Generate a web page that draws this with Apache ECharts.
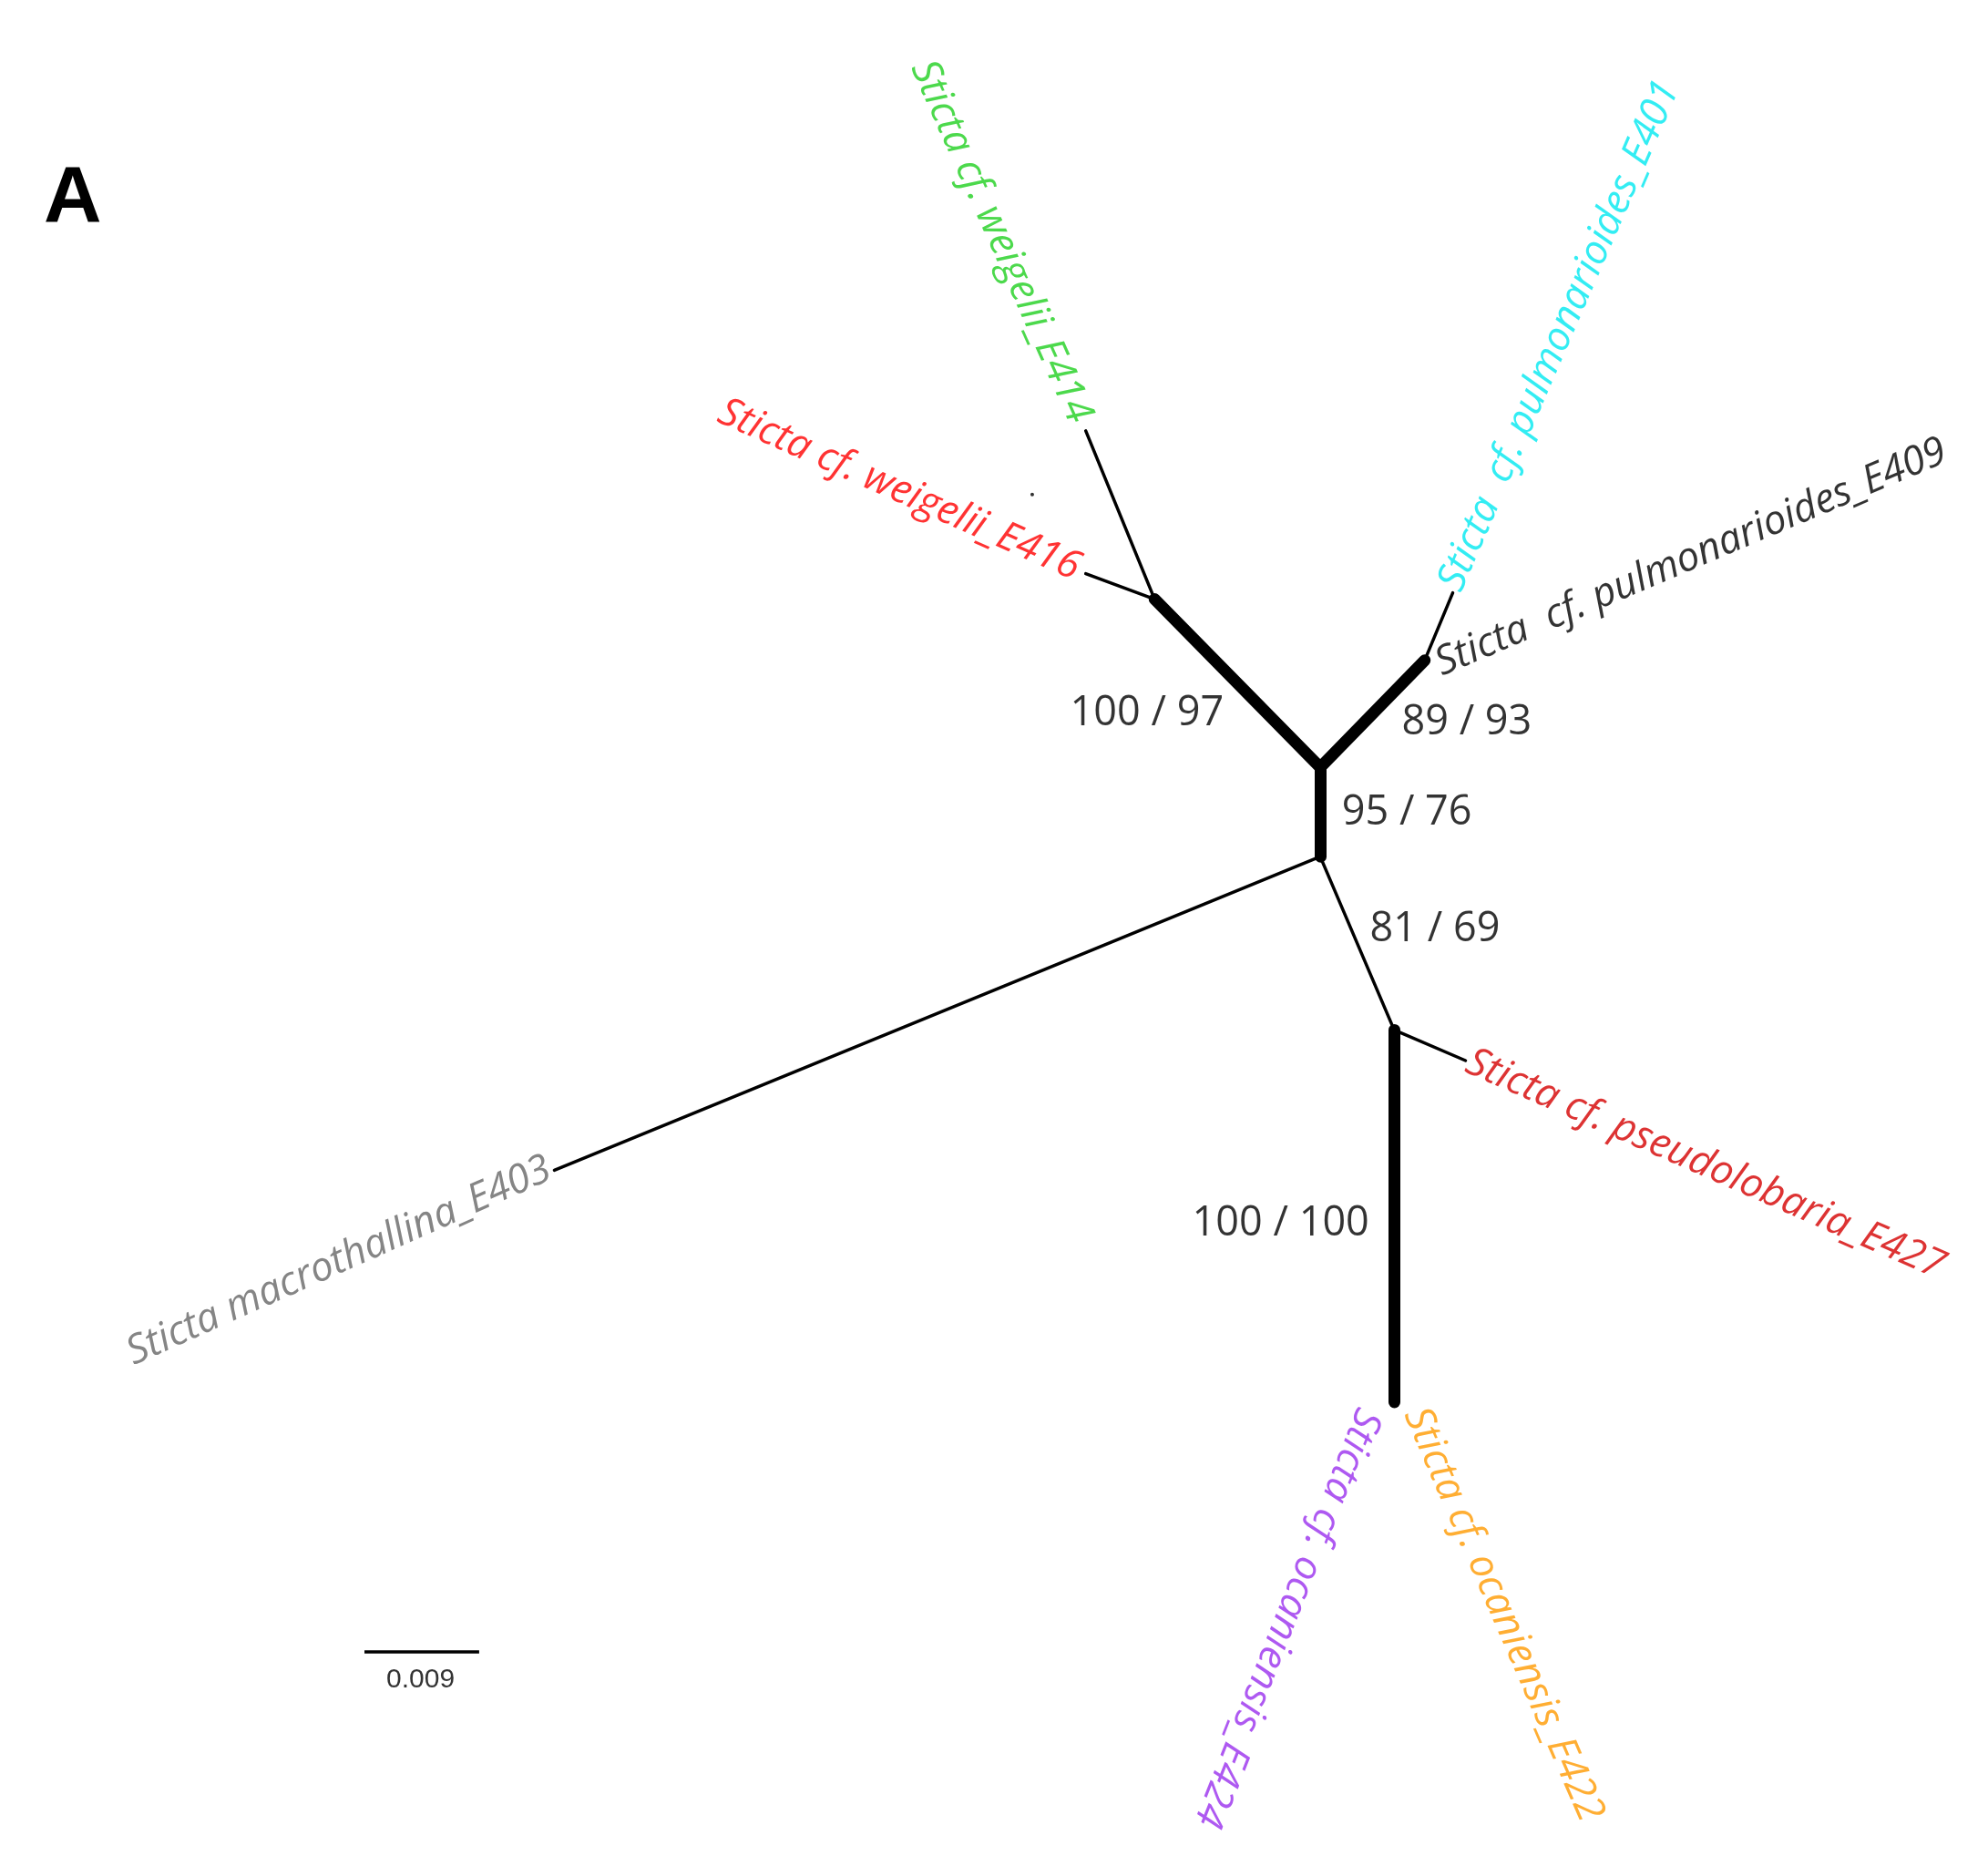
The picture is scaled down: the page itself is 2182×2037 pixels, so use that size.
<!DOCTYPE html>
<html>
<head>
<meta charset="utf-8">
<script src="https://cdn.jsdelivr.net/npm/echarts@6/dist/echarts.min.js"></script>
<style>html,body{margin:0;padding:0;background:#fff}#c{width:2182px;height:2037px}</style>
</head>
<body>
<div id="c"></div>
<script>
// node positions in tree-layout units (x right, y down)
const nodeNames = ['root1', 'root2', 'wei', 'pul', 'pse', 'oca', 'E414', 'E416', 'E401', 'E409', 'E403', 'E427', 'E424', 'E422']
const nodeX = [1036, 1036, 906, 1118, 1094, 1094, 852, 852, 1140, 1118, 435, 1150, 1094, 1094]
const nodeY = [602, 672, 470, 518, 808, 1100, 338, 450, 465, 518, 918, 832, 1100, 1100]

// branches: [from, to, thick]
const branches = [
  ['root1', 'root2', true],
  ['root1', 'wei', true],
  ['root1', 'pul', true],
  ['root2', 'E403', false],
  ['root2', 'pse', false],
  ['pse', 'oca', true],
  ['pse', 'E427', false],
  ['wei', 'E414', false],
  ['wei', 'E416', false],
  ['pul', 'E401', false],
]

// tip labels
const tipNames = ['Sticta cf. weigelii_E414', 'Sticta cf. weigelii_E416', 'Sticta  cf. pulmonarioides_E401',
  'Sticta  cf. pulmonarioides_E409', 'Sticta macrothallina_E403', 'Sticta cf. pseudolobaria_E427',
  'Sticta cf. ocaniensis_E424', 'Sticta cf. ocaniensis_E422']
const tipX = [848, 846, 1138, 1128, 431, 1152, 1074, 1110]
const tipY = [330, 447, 462, 522, 916, 832, 1106, 1106]
const tipRotate = [-66, -24, 66.6, 23, 24, -23.7, -111.5, -66.6]
const tipAlign = ['right', 'right', 'left', 'left', 'right', 'left', 'left', 'left']
const tipColors = ['#1fd01f', '#ff0000', '#00e8f0', '#000000', '#666666', '#d40000', '#9a30ee', '#ff9a00']

// support values
const supportText = ['100 / 97', '89 / 93', '95 / 76', '81 / 69', '100 / 100']
const supportX = [900, 1151, 1104, 1126, 1005]
const supportY = [560, 567, 638, 729, 960]

const pos = n => { const i = nodeNames.indexOf(n); return [nodeX[i], nodeY[i]] }

const chart = echarts.init(document.getElementById('c'))
chart.setOption({
  backgroundColor: '#fff',
  animation: false,
  grid: { left: 0, right: 0, top: 0, bottom: 0 },
  xAxis: { type: 'value', min: 0, max: 1560, show: false },
  yAxis: { type: 'value', min: 0, max: 1456, inverse: true, show: false },
  graphic: [{ type: 'text', left: 48, top: 175, style: { text: 'A', font: 'bold 88px "Liberation Sans", Arial', fill: '#000' } }],
  series: [
    {
      type: 'lines',
      coordinateSystem: 'cartesian2d',
      data: branches.map(([a, b, thick]) => ({
        coords: [pos(a), pos(b)],
        lineStyle: { width: thick ? 13 : 3.5, color: '#000', cap: 'round' },
      })).concat([{ coords: [[286, 1296], [376, 1296]], lineStyle: { width: 3.5, color: '#000' } }]),
      lineStyle: { opacity: 1 },
      z: 2,
    },
    {
      type: 'scatter',
      symbolSize: 0,
      data: tipNames.map((t, i) => ({
        value: [tipX[i], tipY[i]],
        label: {
          show: true, formatter: t, position: 'inside', rotate: tipRotate[i], align: tipAlign[i],
          verticalAlign: 'middle', color: tipColors[i], fontStyle: 'italic', fontSize: 44,
          fontFamily: '"Open Sans", "Noto Sans", sans-serif',
        },
      })),
      z: 3,
    },
    {
      type: 'scatter',
      symbolSize: 0,
      data: supportText.map((t, i) => ({
        value: [supportX[i], supportY[i]],
        label: { show: true, formatter: t, position: 'inside', color: '#000', fontSize: 45, fontFamily: '"Open Sans", "Noto Sans", sans-serif' },
      })).concat([{
        value: [330, 1318],
        label: { show: true, formatter: '0.009', position: 'inside', color: '#000', fontSize: 30, fontFamily: '"Liberation Sans", Arial' },
      }]),
      z: 3,
    },
    { type: 'scatter', symbolSize: 4, itemStyle: { color: '#000' }, data: [[810, 388]], z: 3 },
  ],
})
</script>
</body>
</html>
